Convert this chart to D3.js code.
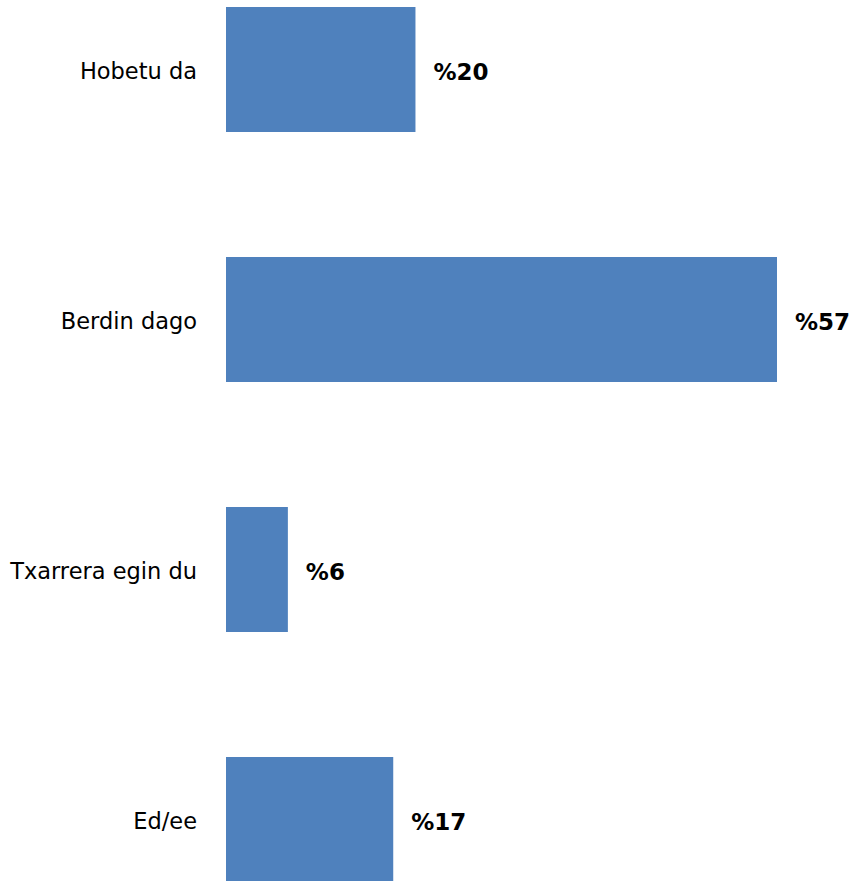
<!DOCTYPE html>
<html>
<head>
<meta charset="utf-8">
<script src="https://cdn.jsdelivr.net/npm/d3@7"></script>
<style>
  html, body { margin: 0; padding: 0; background: #fff; }
  svg { display: block; }
</style>
</head>
<body>
<svg id="chart" width="854" height="881"></svg>
<script>
const categories = ["Hobetu da", "Berdin dago", "Txarrera egin du", "Ed/ee"];
const values = [19.6, 57, 6.4, 17.3];
const valueLabels = ["%20", "%57", "%6", "%17"];

const svg = d3.select("#chart");
const font = "'Century Gothic', 'URW Gothic', 'DejaVu Sans', sans-serif";

const x = d3.scaleLinear().domain([0, 57]).range([226, 777]);
const y = d3.scaleBand().domain(categories).range([-55.5, 944.5]).paddingInner(0.5).paddingOuter(0.25);

svg.append("g").selectAll("rect").data(categories).join("rect")
  .attr("x", x(0))
  .attr("y", d => y(d))
  .attr("width", (d, i) => x(values[i]) - x(0))
  .attr("height", y.bandwidth())
  .attr("fill", "#4f81bd");

svg.append("g").selectAll("text").data(categories).join("text")
  .attr("x", 197)
  .attr("y", d => y(d) + y.bandwidth() / 2 + 2)
  .attr("dy", "0.35em")
  .attr("text-anchor", "end")
  .attr("font-family", font)
  .attr("font-size", 22.5)
  .attr("fill", "#000")
  .text(d => d);

svg.append("g").selectAll("text").data(categories).join("text")
  .attr("x", (d, i) => x(values[i]) + 18)
  .attr("y", d => y(d) + y.bandwidth() / 2 + 2)
  .attr("dy", "0.35em")
  .attr("font-family", font)
  .attr("font-size", 23)
  .attr("font-weight", "bold")
  .attr("fill", "#000")
  .text((d, i) => valueLabels[i]);
</script>
</body>
</html>
